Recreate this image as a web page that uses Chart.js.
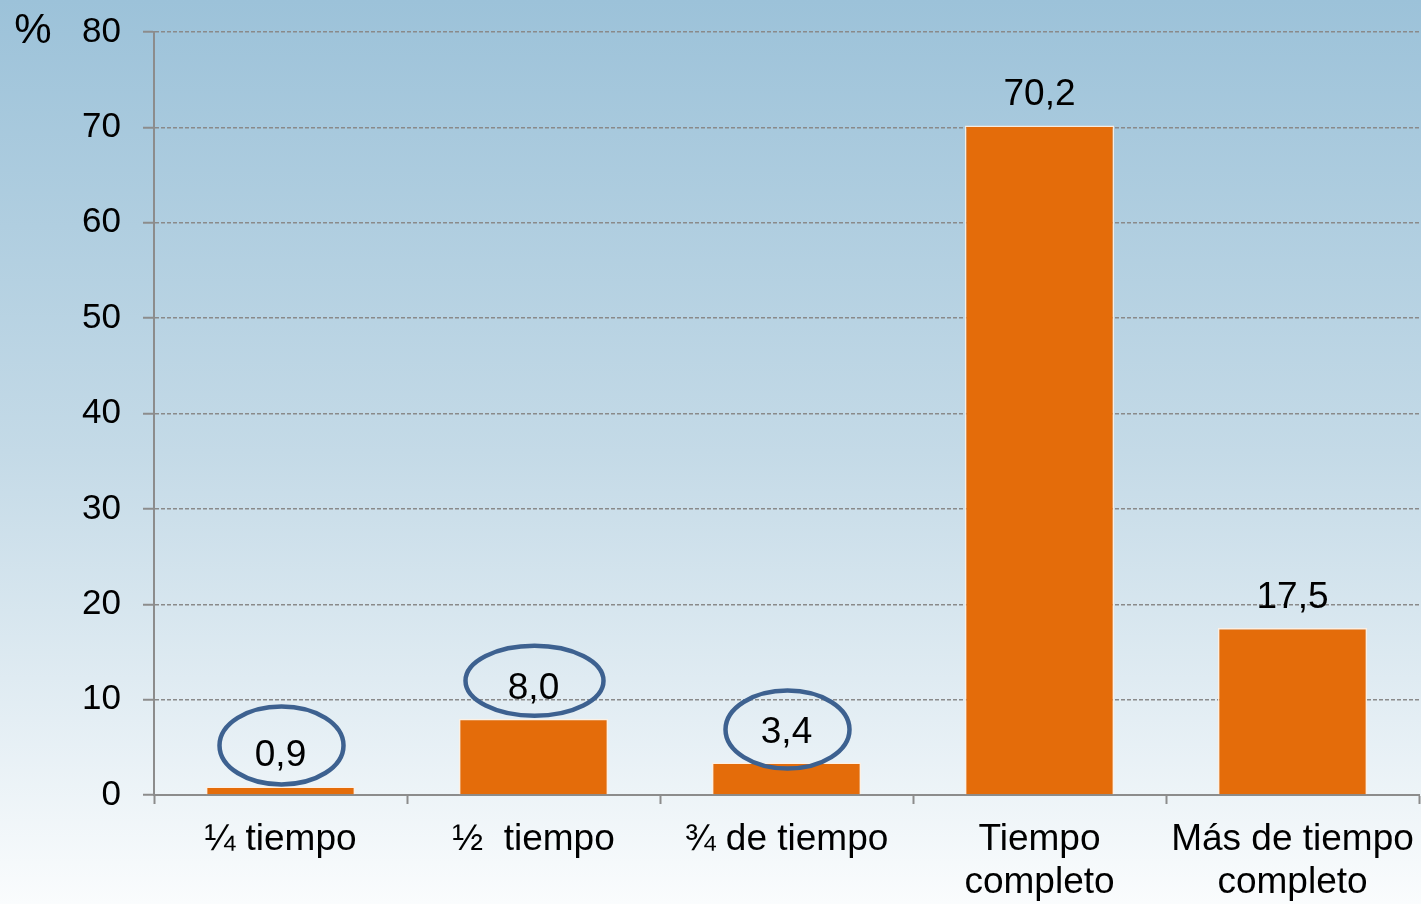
<!DOCTYPE html>
<html>
<head>
<meta charset="utf-8">
<script src="https://cdn.jsdelivr.net/npm/chart.js@4.4.0/dist/chart.umd.min.js"></script>
<style>
  html, body { margin: 0; padding: 0; background: #dfeaf1; }
  #wrap { width: 1421px; height: 904px; position: relative; }
</style>
</head>
<body>
<div id="wrap"><canvas id="c" width="1421" height="904"></canvas></div>
<script>
const categories = [["¼ tiempo"], ["½  tiempo"], ["¾ de tiempo"], ["Tiempo", "completo"], ["Más de tiempo", "completo"]];
const values = [0.9, 8.0, 3.4, 70.2, 17.5];
const valueLabels = ["0,9", "8,0", "3,4", "70,2", "17,5"];
const yTicks = [0, 10, 20, 30, 40, 50, 60, 70, 80];
const circled = [0, 1, 2];

const FONT = "'Liberation Sans', Arial, sans-serif";

const bgPlugin = {
  id: 'bg',
  beforeDraw(chart) {
    const { ctx, width, height } = chart;
    const g = ctx.createLinearGradient(0, 0, 0, height);
    g.addColorStop(0, 'rgb(156,194,217)');
    g.addColorStop(0.5, 'rgb(196,218,231)');
    g.addColorStop(1, 'rgb(250,252,253)');
    ctx.save();
    ctx.fillStyle = g;
    ctx.fillRect(0, 0, width, height);
    ctx.restore();
  }
};

const labelPlugin = {
  id: 'valueLabels',
  afterDatasetsDraw(chart) {
    const { ctx } = chart;
    const meta = chart.getDatasetMeta(0);
    ctx.save();
    ctx.font = '37px ' + FONT;
    ctx.fillStyle = '#000';
    ctx.textAlign = 'center';
    ctx.textBaseline = 'alphabetic';
    meta.data.forEach((bar, i) => {
      ctx.fillText(valueLabels[i], bar.x, bar.y - 20);
    });
    const ellipseDy = [-41, -38, -33];
    const ellipseRx = [62, 69, 62];
    const ellipseRy = [39, 35, 39];
    ctx.strokeStyle = '#3d6190';
    ctx.lineWidth = 4.5;
    circled.forEach((i, k) => {
      const bar = meta.data[i];
      ctx.beginPath();
      ctx.ellipse(bar.x + 1, bar.y + ellipseDy[k], ellipseRx[k], ellipseRy[k], 0, 0, Math.PI * 2);
      ctx.stroke();
    });
    // percent sign
    const ys = chart.scales.y;
    ctx.font = '42px ' + FONT;
    ctx.textAlign = 'center';
    ctx.textBaseline = 'middle';
    ctx.fillText('%', 33, ys.getPixelForValue(80) - 1);
    ctx.restore();
  }
};

new Chart(document.getElementById('c'), {
  type: 'bar',
  data: {
    labels: categories,
    datasets: [{
      data: values,
      backgroundColor: 'rgb(228,108,10)',
      borderColor: 'rgba(255,240,225,0.9)',
      borderWidth: 1.5,
      categoryPercentage: 1,
      barPercentage: 0.59
    }]
  },
  options: {
    responsive: false,
    animation: false,
    devicePixelRatio: 1,
    layout: { padding: { top: 32, right: 2, left: 0, bottom: 0 } },
    plugins: { legend: { display: false }, tooltip: { enabled: false } },
    scales: {
      x: {
        afterFit(s) { s.height = 109; s.paddingLeft = 0; s.paddingRight = 0; s.paddingTop = 0; s.paddingBottom = 0; },
        grid: { display: true, drawOnChartArea: false, offset: true, tickLength: 9, tickColor: '#8c8c8c', tickWidth: 2 },
        border: { display: true, color: '#8c8c8c', width: 2 },
        ticks: { color: '#000', font: { family: FONT, size: 37, lineHeight: 1.16 }, padding: 14, maxRotation: 0, autoSkip: false }
      },
      y: {
        min: 0, max: 80,
        afterFit(s) { s.width = 154; s.paddingTop = 0; s.paddingBottom = 0; s.paddingLeft = 0; s.paddingRight = 0; },
        afterBuildTicks(s) { s.ticks = yTicks.map(v => ({ value: v })); },
        grid: { color: '#8a8a8a', lineWidth: 1.5, tickLength: 11, tickColor: '#8c8c8c', tickWidth: 2 },
        border: { display: true, color: '#8c8c8c', width: 2, dash: [4, 2] },
        ticks: { color: '#000', font: { family: FONT, size: 35 }, padding: 22 }
      }
    }
  },
  plugins: [bgPlugin, labelPlugin]
});
</script>
</body>
</html>
